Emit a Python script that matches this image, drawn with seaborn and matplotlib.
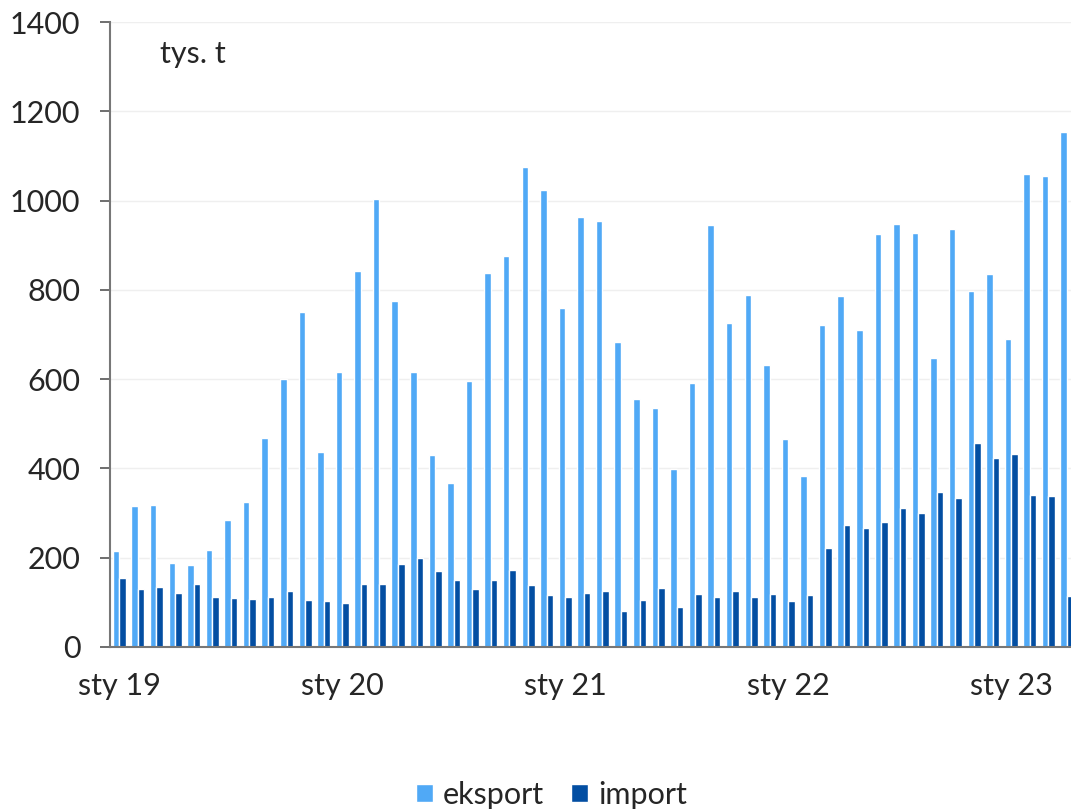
import pandas as pd
import seaborn as sns
import matplotlib.pyplot as plt
import numpy as np

# monthly values, tys. t, Jan 2019 - Apr 2023
months = pd.date_range('2019-01-01', '2023-04-01', freq='MS')
eksport = [215, 316, 318, 188, 183, 217, 284, 325, 469, 601, 750, 437,
           617, 843, 1003, 775, 616, 430, 368, 595, 838, 876, 1076, 1023,
           760, 963, 954, 683, 556, 535, 398, 591, 946, 726, 789, 631,
           467, 383, 722, 786, 710, 925, 947, 927, 647, 937, 797, 836,
           690, 1059, 1056, 1154]
imprt = [155, 130, 134, 122, 141, 111, 110, 107, 113, 125, 106, 103,
         99, 142, 142, 186, 199, 171, 149, 130, 149, 173, 138, 117,
         113, 121, 126, 81, 105, 132, 90, 118, 113, 125, 112, 118,
         102, 116, 222, 274, 267, 281, 311, 300, 348, 334, 458, 424,
         432, 340, 339, 115]
tick_labels = ['sty 19', 'sty 20', 'sty 21', 'sty 22', 'sty 23']

df = pd.DataFrame({'month': np.tile(np.arange(len(months)), 2),
                   'value': eksport + imprt,
                   'series': ['eksport'] * len(eksport) + ['import'] * len(imprt)})

sns.set_style('white')
plt.rcParams['font.family'] = ['Lato', 'DejaVu Sans']

fig = plt.figure(figsize=(10.71, 8.09), dpi=100)
ax = fig.add_axes([110 / 1071, 162 / 809, 1 - 110 / 1071, 625 / 809])

sns.barplot(data=df, x='month', y='value', hue='series',
            palette=['#50a9f6', '#034ea2'], width=0.7, saturation=1, ax=ax,
            native_scale=True, legend=True)

ax.set_ylim(0, 1400)
ax.set_xlim(-0.5, 51.22)
ax.set_yticks(np.arange(0, 1401, 200))
ax.yaxis.grid(True, color='#efefef', linewidth=1)
ax.set_axisbelow(True)

# month-group boundaries get tick marks, labels sit under the January group
ax.set_xticks(np.arange(0, len(months), 12))
ax.set_xticklabels(tick_labels)
ax.set_xticks(np.arange(0, len(months), 12) - 0.5, minor=True)
ax.tick_params(axis='x', which='major', length=0, pad=18, labelsize=22)
ax.tick_params(axis='x', which='minor', length=7, width=1.5, color='#777777', direction='out')
ax.tick_params(axis='y', length=7.2, width=1.2, color='#555555', pad=14, labelsize=22, left=True)
ax.set_xlabel('')
ax.set_ylabel('')

sns.despine(ax=ax, top=True, right=True)
ax.spines['left'].set_color('#777777')
ax.spines['bottom'].set_color('#777777')
ax.spines['left'].set_linewidth(1.5)
ax.spines['bottom'].set_linewidth(1.5)

ax.text(0.052, 0.934, 'tys. t', transform=ax.transAxes, fontsize=22, va='baseline')

handles, labels = ax.get_legend_handles_labels()
ax.get_legend().remove()
fig.legend(handles, labels, loc='lower center', bbox_to_anchor=(0.515, -0.034), ncol=2,
           frameon=False, fontsize=22, handlelength=0.55, handleheight=0.55,
           handletextpad=0.33, columnspacing=0.9)

plt.savefig('out.png', dpi=100)
